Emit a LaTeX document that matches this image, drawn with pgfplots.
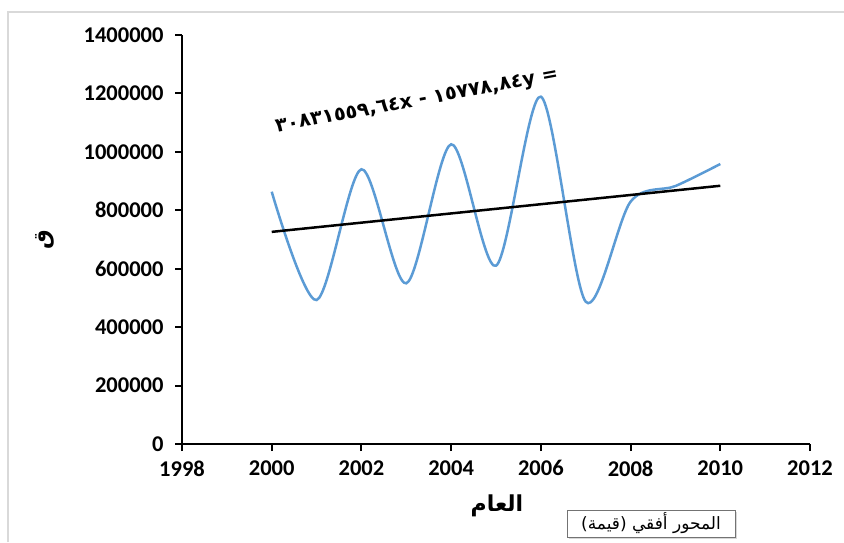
\documentclass[border=0pt]{standalone}
\usepackage{fontspec}
\setmainfont{Carlito}
\newfontfamily\arabicfont[Script=Arabic]{DejaVu Sans}
\newfontfamily\eqfont{DejaVu Sans}
\TeXXeTstate=1
\usepackage{pgfplots}
\pgfplotsset{compat=1.18}
\usetikzlibrary{shadows}
\definecolor{serblue}{HTML}{5B9BD5}
\begin{document}
\begin{tikzpicture}[x=1pt,y=1pt]
\useasboundingbox (0,0) rectangle (844,542);
\fill[white] (0,0) rectangle (844,542);
\draw[color=black!15, line width=1.5pt] (8,0) -- (8,530) -- (844,530);
\begin{axis}[at={(182pt,98pt)}, anchor=south west,
  width=628pt, height=409pt, scale only axis,
  xmin=1998, xmax=2012, ymin=0, ymax=1400000,
  axis lines=left, axis line style={-, line width=2pt},
  xtick={1998,2000,2002,2004,2006,2008,2010,2012},
  ytick={0,200000,400000,600000,800000,1000000,1200000,1400000},
  tick style={black, line width=2pt}, major tick length=7pt, tick align=outside,
  scaled y ticks=false, scaled x ticks=false,
  /pgf/number format/fixed, /pgf/number format/1000 sep={},
  /pgf/number format/assume math mode=true,
  tick label style={font=\fontsize{22.5}{26}\selectfont\bfseries},
  yticklabel style={xshift=-8pt},
  xticklabel style={yshift=-6pt},
]
\addplot[serblue, line width=2.5pt, smooth, tension=0.5] coordinates {
  (2000,863600) (2001,492900) (2002,940300) (2003,550000) (2004,1025900)
  (2005,610300) (2006,1188900) (2007,487100) (2008,829400) (2009,883000)
  (2010,958400)};
\addplot[black, line width=2.5pt] coordinates {(2000,726120) (2010,883908)};
\end{axis}
\node[rotate=90] at (45,302) {\fontsize{22}{26}\selectfont\arabicfont\bfseries\beginR ق\endR};
\node at (497,36) {\fontsize{22}{26}\selectfont\arabicfont\bfseries\beginR العام\endR};
\node[rotate=10.5] at (417,440) {\fontsize{19.5}{22}\selectfont\eqfont\bfseries\beginL ٣٠٨٣١٥٥٩,٦٤x - ١٥٧٧٨,٨٤y =\endL};
\node[draw=black!55, fill=white, drop shadow={shadow xshift=2pt, shadow yshift=-2pt, opacity=0.3}, minimum width=168pt, minimum height=27pt, inner sep=2pt] at (651,18.5) {\fontsize{17}{20}\selectfont\arabicfont\beginR المحور أفقي (قيمة)\endR};
\end{tikzpicture}
\end{document}
